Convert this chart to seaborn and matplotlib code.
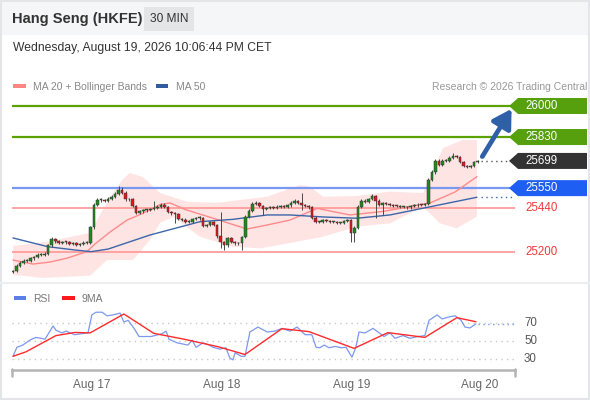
import numpy as np
import matplotlib
matplotlib.use("Agg")
import matplotlib.pyplot as plt
import matplotlib.transforms as mtransforms
from matplotlib.patches import Polygon, Rectangle, FancyArrowPatch
from matplotlib.lines import Line2D
import seaborn as sns

# ---------------- data ----------------
opens = [
    25090, 25096, 25125, 25141, 25151, 25152, 25165, 25171, 25184, 25184,
    25189, 25238, 25271, 25260, 25249, 25255, 25253, 25244, 25249, 25238,
    25242, 25251, 25251, 25337, 25458, 25485, 25485, 25481, 25490, 25503,
    25518, 25542, 25526, 25488, 25490, 25452, 25416, 25422, 25428, 25430,
    25436, 25441, 25449, 25460, 25447, 25419, 25411, 25406, 25381, 25378,
    25364, 25367, 25379, 25385, 25386, 25343, 25348, 25362, 25348, 25285,
    25255, 25238, 25277, 25255, 25247, 25247, 25282, 25392, 25425, 25463,
    25469, 25452, 25436, 25440, 25445, 25440, 25448, 25452, 25448, 25455,
    25469, 25480, 25469, 25458, 25452, 25444, 25389, 25364, 25366, 25373,
    25368, 25366, 25366, 25359, 25361, 25372, 25375, 25304, 25332, 25447,
    25482, 25474, 25490, 25507, 25482, 25458, 25469, 25462, 25458, 25452,
    25451, 25447, 25447, 25444, 25452, 25455, 25459, 25458, 25463, 25595,
    25638, 25701, 25677, 25699, 25699, 25715, 25726, 25721, 25693, 25671,
    25668, 25671, 25693]
closes = [
    25096, 25125, 25141, 25151, 25152, 25165, 25171, 25184, 25184, 25189,
    25238, 25271, 25260, 25249, 25255, 25253, 25244, 25249, 25238, 25242,
    25251, 25251, 25337, 25458, 25485, 25485, 25481, 25490, 25503, 25518,
    25542, 25526, 25488, 25490, 25452, 25416, 25422, 25428, 25430, 25436,
    25441, 25449, 25460, 25447, 25419, 25411, 25406, 25381, 25378, 25364,
    25367, 25379, 25385, 25386, 25343, 25348, 25362, 25348, 25285, 25255,
    25238, 25277, 25255, 25247, 25247, 25282, 25392, 25425, 25463, 25469,
    25452, 25436, 25440, 25445, 25440, 25448, 25452, 25448, 25455, 25469,
    25480, 25469, 25458, 25452, 25444, 25389, 25364, 25366, 25373, 25368,
    25366, 25366, 25359, 25361, 25372, 25375, 25304, 25332, 25447, 25482,
    25474, 25490, 25507, 25482, 25458, 25469, 25462, 25458, 25452, 25451,
    25447, 25447, 25444, 25452, 25455, 25459, 25458, 25463, 25595, 25638,
    25701, 25677, 25699, 25699, 25715, 25726, 25721, 25693, 25671, 25668,
    25671, 25693, 25699]
highs = [
    25104, 25133, 25150, 25160, 25160, 25175, 25180, 25192, 25193, 25198,
    25246, 25280, 25278, 25266, 25262, 25262, 25260, 25256, 25255, 25250,
    25258, 25262, 25345, 25470, 25495, 25494, 25492, 25500, 25512, 25530,
    25562, 25555, 25532, 25498, 25496, 25458, 25430, 25436, 25437, 25443,
    25478, 25458, 25468, 25466, 25453, 25426, 25418, 25412, 25388, 25384,
    25375, 25386, 25392, 25395, 25392, 25356, 25370, 25368, 25354, 25421,
    25262, 25284, 25282, 25261, 25254, 25290, 25400, 25434, 25472, 25478,
    25475, 25458, 25447, 25452, 25451, 25455, 25459, 25458, 25462, 25477,
    25488, 25486, 25524, 25464, 25458, 25450, 25395, 25372, 25380, 25379,
    25374, 25372, 25371, 25367, 25378, 25382, 25381, 25340, 25455, 25492,
    25488, 25498, 25516, 25513, 25488, 25476, 25475, 25468, 25464, 25458,
    25456, 25453, 25452, 25458, 25461, 25466, 25465, 25470, 25605, 25650,
    25712, 25710, 25708, 25710, 25725, 25742, 25734, 25728, 25699, 25677,
    25678, 25700, 25705]
lows = [
    25084, 25090, 25118, 25135, 25144, 25146, 25158, 25165, 25176, 25178,
    25182, 25230, 25252, 25242, 25243, 25246, 25237, 25238, 25231, 25232,
    25236, 25244, 25244, 25328, 25450, 25476, 25474, 25475, 25483, 25496,
    25510, 25518, 25480, 25482, 25445, 25408, 25410, 25416, 25421, 25424,
    25430, 25435, 25443, 25440, 25412, 25404, 25360, 25374, 25371, 25357,
    25358, 25361, 25373, 25378, 25336, 25337, 25341, 25342, 25277, 25222,
    25211, 25230, 25248, 25240, 25240, 25211, 25275, 25385, 25418, 25456,
    25446, 25402, 25430, 25434, 25433, 25434, 25442, 25441, 25442, 25449,
    25462, 25462, 25430, 25445, 25438, 25382, 25357, 25358, 25360, 25362,
    25360, 25360, 25352, 25353, 25355, 25366, 25256, 25256, 25325, 25440,
    25467, 25468, 25484, 25386, 25451, 25400, 25455, 25452, 25446, 25445,
    25441, 25441, 25438, 25438, 25446, 25449, 25452, 25452, 25455, 25588,
    25630, 25670, 25670, 25692, 25692, 25708, 25714, 25686, 25664, 25661,
    25662, 25665, 25687]

ma20_pos = [0, 5.7, 10.5, 15.3, 21, 23.3, 27.6, 32.4, 36.9, 41.8, 44.6, 48.9, 58,
            66.5, 72.2, 78.7, 86.4, 95.7, 105, 118.5, 125.6, 131.8]
ma20_val = [25156, 25134, 25145, 25166, 25202, 25244, 25310, 25375, 25412, 25460, 25469,
            25433, 25378, 25326, 25348, 25375, 25439, 25403, 25422, 25469, 25529, 25613]
ma50_pos = [0, 9.9, 17.6, 22.2, 27, 38.9, 53.1, 62.5, 72.2, 78.7, 88.1, 97.7, 107.1,
            116.5, 131.8]
ma50_val = [25277, 25229, 25211, 25202, 25216, 25293, 25366, 25379, 25403, 25403, 25392,
            25385, 25403, 25440, 25500]
bb_up_pos = [0, 9.7, 21.9, 24.7, 27.6, 31, 33.2, 36.9, 41.8, 49.4, 58, 64.5, 72.2, 81.5,
             84.4, 88.1, 97.7, 107.1, 116.5, 119.3, 122.2, 127.8, 131.8]
bb_up_val = [25233, 25256, 25305, 25403, 25502, 25595, 25633, 25611, 25523, 25476, 25469,
             25485, 25503, 25567, 25558, 25503, 25507, 25531, 25523, 25650, 25770, 25814, 25814]
bb_lo_pos = [0, 8.5, 21.9, 26.7, 34.1, 38.9, 41.8, 45.5, 53.1, 62.5, 70.2, 78.7, 88.1,
             97.7, 107.1, 116.5, 121.3, 126.1, 131.8]
bb_lo_val = [25075, 25058, 25070, 25156, 25156, 25266, 25360, 25392, 25284, 25229, 25220,
             25249, 25284, 25339, 25357, 25448, 25357, 25330, 25394]

rsi_pos = [0, 1.1, 2.8, 4.8, 6.5, 8, 9.1, 11.4, 12.2, 13.9, 15.1, 16.2, 17.6, 19.3, 21.3,
           22.4, 23.6, 25.3, 26.7, 28.4, 30.4, 31.5, 32.7, 34.4, 35.8, 39.2, 42.3, 43.5,
           44.3, 46.6, 49.7, 50.9, 52, 54, 55.7, 56.8, 58.8, 60.5, 61.6, 62.5, 63.1, 64.8,
           65.9, 67.3, 69.6, 72.2, 74.4, 76.4, 78.7, 80.7, 83, 84.9, 86.1, 87.2, 88.4, 89.8,
           91.5, 93.2, 94.6, 96.3, 97.4, 98.3, 100, 102.3, 103.7, 105.4, 107.1, 108.5,
           110.8, 112.8, 115.1, 117, 118.2, 120.5, 121.9, 124.1, 125.6, 127.3, 128.4,
           129.8, 131.5]
rsi_val = [33, 43, 45.5, 51, 54, 53, 52, 66.7, 62, 59, 61, 59, 57, 58, 59, 79, 82, 82, 78,
           79, 81, 71, 73, 64, 55, 55, 58, 61, 52, 48, 45.5, 51, 43, 48, 45.5, 43, 41, 42.5,
           31, 29, 37, 33, 33, 60, 65.5, 60, 61, 64, 61, 65.5, 57, 57, 43, 42.5, 45.5, 42.5,
           44, 42.5, 43, 32, 43, 60, 59, 64, 60, 55, 59, 53, 56, 53, 55, 56, 73, 79, 74.5,
           77, 78, 73, 65.5, 64.5, 69]
ma9_pos = [0, 3.7, 12.2, 17.6, 21.9, 31.5, 40, 48.6, 58.2, 65.9, 76.4, 84.1, 96.9, 106.5,
           117, 126.1, 131.5]
ma9_val = [33, 38, 56, 59.5, 59, 80, 58.5, 52, 43.7, 35, 63.7, 60.4, 41.8, 59.3, 54, 75.9, 71.4]

resistances = [26000, 25830]
pivot = 25550
supports = [25440, 25200]
last_price = 25699
rsi_levels = [70, 50, 30]
day_pos = [22.4, 59.4, 96.3, 132.7]
day_labels = ["Aug 17", "Aug 18", "Aug 19", "Aug 20"]

# ---------------- layout ----------------
sns.set_theme(style="white")
plt.rcParams['font.family'] = ['Liberation Sans', 'DejaVu Sans']

W, H = 590, 400
fig = plt.figure(figsize=(W / 100, H / 100), dpi=100)
fig.patch.set_facecolor('white')


def fx(x):
    return x / W


def fy(y):
    return 1 - y / H


BAR_PX = 3.52
BAR0 = 13


def px2i(x):
    return (x - BAR0) / BAR_PX


PRICE_PER_PX = 800 / 146
RSI_PER_PX = 40 / 36
LEFT, RIGHT = 12, 515

# header band, separators, border
fig.add_artist(Rectangle((0, fy(35)), 1, 35 / H, transform=fig.transFigure,
                         facecolor='#f5f6f7', edgecolor='none', zorder=0))
fig.add_artist(Line2D([0, 1], [fy(283), fy(283)], transform=fig.transFigure,
                      color='#eceef0', lw=1.5))
fig.add_artist(Rectangle((0.001, 0.002), 0.997, 0.996, transform=fig.transFigure,
                         facecolor='none', edgecolor='#e3e5e8', lw=1.5))

fig.text(fx(12), fy(19.5), "Hang Seng (HKFE)", fontsize=10.5, fontweight='bold',
         color='#333333', va='center', ha='left')
fig.add_artist(Rectangle((fx(144), fy(31)), 50 / W, 24 / H, transform=fig.transFigure,
                         facecolor='#e4e5e7', edgecolor='none'))
fig.text(fx(169), fy(19.5), "30 MIN", fontsize=8.6, color='#333333', va='center', ha='center')
fig.text(fx(13), fy(48.5), "Wednesday, August 19, 2026 10:06:44 PM CET", fontsize=8.7,
         color='#333333', va='center', ha='left')

# legends
fig.add_artist(Rectangle((fx(13), fy(88)), 13 / W, 4 / H, transform=fig.transFigure,
                         facecolor='#ff8585', edgecolor='none'))
fig.text(fx(33), fy(86.5), "MA 20 + Bollinger Bands", fontsize=7.5, color='#888888', va='center')
fig.add_artist(Rectangle((fx(156), fy(88)), 12 / W, 4 / H, transform=fig.transFigure,
                         facecolor='#2f5da0', edgecolor='none'))
fig.text(fx(176), fy(86.5), "MA 50", fontsize=7.5, color='#888888', va='center')
fig.text(fx(587), fy(86.5), "Research \u00a9 2026 Trading Central", fontsize=7.5,
         color='#999999', va='center', ha='right')

fig.add_artist(Rectangle((fx(14), fy(300)), 12 / W, 4 / H, transform=fig.transFigure,
                         facecolor='#5b80e8', edgecolor='none'))
fig.text(fx(33), fy(298.5), "RSI", fontsize=7.5, color='#777777', va='center')
fig.add_artist(Rectangle((fx(62), fy(300)), 13 / W, 4 / H, transform=fig.transFigure,
                         facecolor='#ff1a1a', edgecolor='none'))
fig.text(fx(82), fy(298.5), "9MA", fontsize=7.5, color='#777777', va='center')

# ---------------- main price panel ----------------
ax = fig.add_axes([fx(LEFT), fy(280), (RIGHT - LEFT) / W, (280 - 95) / H])
ax.set_xlim(px2i(LEFT), px2i(RIGHT))
ax.set_ylim(26000 - (280 - 106) * PRICE_PER_PX, 26000 + (106 - 95) * PRICE_PER_PX)
ax.axis('off')
ax.patch.set_alpha(0)

# Bollinger band
band_x = np.r_[bb_up_pos, bb_lo_pos[::-1]]
band_y = np.r_[bb_up_val, bb_lo_val[::-1]]
ax.fill(band_x, band_y, facecolor='#ffe1e1', edgecolor='none', alpha=0.9, zorder=1)

# level lines
for lv in resistances:
    ax.hlines(lv, px2i(LEFT), px2i(510), color='#5aa300', lw=1.6, zorder=2)
ax.hlines(pivot, px2i(LEFT), px2i(510), color='#7799f2', lw=1.6, zorder=2)
for lv in supports:
    ax.hlines(lv, px2i(LEFT), px2i(RIGHT), color='#ff9c9c', lw=1.3, zorder=2)

# moving averages
sns.lineplot(x=ma20_pos, y=ma20_val, ax=ax, color='#ff8a8a', lw=1.0, estimator=None,
             sort=False, legend=False, zorder=3)
sns.lineplot(x=ma50_pos, y=ma50_val, ax=ax, color='#3b66aa', lw=1.0, estimator=None,
             sort=False, legend=False, zorder=3)
ax.hlines(ma50_val[-1], px2i(481), px2i(512), color='#3b66aa', lw=1.0,
          linestyles=(0, (1, 2.5)), zorder=3)
ax.axis('off')

# candles
idx = np.arange(len(closes))
o = np.array(opens)
c = np.array(closes)
hi = np.array(highs)
lo = np.array(lows)
up = c >= o
ax.vlines(idx, lo, hi, color='#4a4a4a', lw=0.7, zorder=4)
body_bottom = np.minimum(o, c)
body_h = np.maximum(np.abs(c - o), 5)
ax.bar(idx, body_h, bottom=body_bottom, width=0.72,
       color=np.where(up, '#1f8a1f', '#e3161b'), edgecolor='#333333', linewidth=0.35,
       zorder=5)

# current price dotted line
ax.hlines(last_price, px2i(481), px2i(509), color='#555555', lw=1.0,
          linestyles=(0, (1, 2.5)), zorder=3)

# arrow toward the target
arrow = FancyArrowPatch((idx[-1] + 0.9, closes[-1] + 2 * PRICE_PER_PX),
                        (px2i(513), resistances[0] - 0.5 * PRICE_PER_PX),
                        arrowstyle='-|>,head_length=11,head_width=6.5', mutation_scale=1,
                        lw=3.4, color='#2f5fa7', zorder=7, clip_on=False)
ax.add_patch(arrow)

# tags on the right
trans = mtransforms.blended_transform_factory(fig.transFigure, ax.transData)
half = 8 * PRICE_PER_PX


def tag(level, color):
    verts = [(fx(509), level), (fx(518), level + half), (fx(587), level + half),
             (fx(587), level - half), (fx(518), level - half)]
    fig.add_artist(Polygon(verts, closed=True, transform=trans, facecolor=color,
                           edgecolor='none', zorder=5))
    fig.text(fx(525), level, f"{level}", transform=trans, color='white', fontsize=8.3,
             va='center', ha='left', zorder=6)


for lv in resistances:
    tag(lv, '#55a00c')
tag(last_price, '#333333')
tag(pivot, '#1f5ef3')
for lv in supports:
    fig.text(fx(525), lv, f"{lv}", transform=trans, color='#f03a3a', fontsize=8.3,
             va='center', ha='left')

# ---------------- RSI panel ----------------
rax = fig.add_axes([fx(LEFT), fy(370), (RIGHT - LEFT) / W, (370 - 305) / H])
rax.set_xlim(px2i(LEFT), px2i(RIGHT))
rax.set_ylim(50 - (370 - 341) * RSI_PER_PX, 50 + (341 - 305) * RSI_PER_PX)
rax.patch.set_alpha(0)
for s in ['left', 'right', 'top']:
    rax.spines[s].set_visible(False)
rax.spines['bottom'].set_color('#b5b5b5')
rax.spines['bottom'].set_linewidth(1.8)

rax.hlines(rsi_levels, px2i(LEFT), px2i(RIGHT), color='#c9c9c9', lw=1.0,
           linestyles=(0, (1, 3)), zorder=1)
sns.lineplot(x=rsi_pos, y=rsi_val, ax=rax, color='#7c98ee', lw=0.9, estimator=None,
             sort=False, legend=False, zorder=3)
sns.lineplot(x=ma9_pos, y=ma9_val, ax=rax, color='#ff2a2a', lw=1.0, estimator=None,
             sort=False, legend=False, zorder=4)
rax.hlines(rsi_val[-1], px2i(478), px2i(RIGHT), color='#7c98ee', lw=1.0,
           linestyles=(0, (1, 2.5)), zorder=3)

rax.set_xticks(day_pos)
rax.set_xticklabels(day_labels)
rax.set_yticks([])
rax.set_xlabel('')
rax.set_ylabel('')
rax.tick_params(axis='x', length=0, pad=6.5, labelsize=8.5, labelcolor='#666666')

rtrans = mtransforms.blended_transform_factory(fig.transFigure, rax.transData)
for lv in rsi_levels:
    fig.text(fx(524), lv, f"{lv}", transform=rtrans, color='#555555', fontsize=8.3,
             va='center', ha='left')

for xe in (LEFT, RIGHT):
    fig.add_artist(Line2D([fx(xe), fx(xe)], [fy(369), fy(376)], transform=fig.transFigure,
                          color='#b5b5b5', lw=1.8))

fig.savefig("out.png", dpi=100)
